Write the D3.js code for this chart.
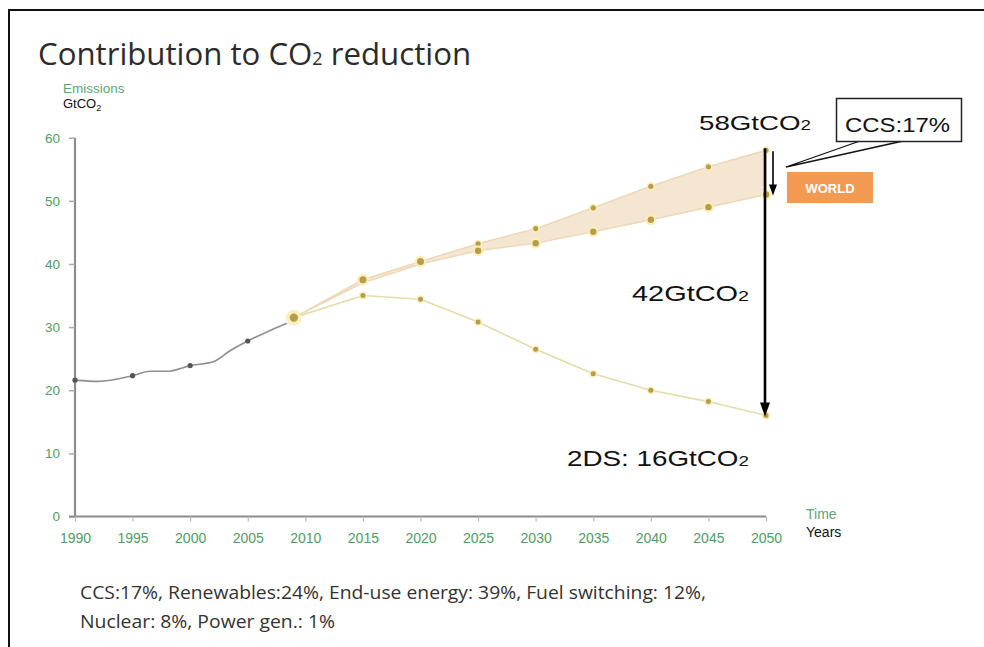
<!DOCTYPE html>
<html>
<head>
<meta charset="utf-8">
<script src="https://cdn.jsdelivr.net/npm/d3@7/dist/d3.min.js"></script>
<style>
  html, body { margin: 0; padding: 0; background: #fff; }
  svg { display: block; }
</style>
</head>
<body>
<svg id="chart" width="984" height="647"></svg>
<script>
// Historical emissions (GtCO2)
const histYears  = [1990, 1992, 1995, 1996.5, 1998, 2000, 2002, 2003.5, 2005, 2007, 2008.4];
const histValues = [21.6, 21.4, 22.3, 23.0, 23.0, 23.9, 24.5, 26.3, 27.8, 29.5, 30.6];
const histMarkYears = [1990, 1995, 2000, 2005];

// Projections from 2009
const projYears   = [2009, 2015, 2020, 2025, 2030, 2035, 2040, 2045, 2050];
const baseline    = [31.5, 37.5, 40.4, 43.2, 45.6, 48.9, 52.3, 55.4, 58];
const withCCS     = [31.5, 37.0, 40.0, 42.1, 43.3, 45.1, 47.0, 49.0, 51];
const twoDS       = [31.5, 35.0, 34.4, 30.8, 26.5, 22.6, 20.0, 18.2, 16];

// Axis ticks
const xTicks = [1990, 1995, 2000, 2005, 2010, 2015, 2020, 2025, 2030, 2035, 2040, 2045, 2050];
const yTicks = [0, 10, 20, 30, 40, 50, 60];

const footLines = [
  "CCS:17%, Renewables:24%, End-use energy: 39%, Fuel switching: 12%,",
  "Nuclear: 8%, Power gen.: 1%"
];

const svg = d3.select("#chart");
const green = "#4e9e64";

const x = d3.scaleLinear().domain([1990, 2050]).range([75, 766]);
const y = d3.scaleLinear().domain([0, 60]).range([516.5, 137.7]);

// frame (top and left edges)
svg.append("line").attr("x1", 9).attr("x2", 984).attr("y1", 10).attr("y2", 10)
  .attr("stroke", "#111").attr("stroke-width", 2);
svg.append("line").attr("x1", 9).attr("x2", 9).attr("y1", 9).attr("y2", 647)
  .attr("stroke", "#111").attr("stroke-width", 2);

// title
const title = svg.append("text").attr("x", 38).attr("y", 65)
  .attr("font-family", "'Open Sans', 'Noto Sans', sans-serif")
  .attr("font-size", 31.2).attr("fill", "#2b2b2b");
title.append("tspan").text("Contribution to CO");
title.append("tspan").attr("font-size", 18).text("2");
title.append("tspan").text(" reduction");

// axis caption
svg.append("text").attr("x", 63).attr("y", 93)
  .attr("font-family", "Arial, 'Liberation Sans', sans-serif")
  .attr("font-size", 13.5).attr("fill", "#5aa874").text("Emissions");
const gt = svg.append("text").attr("x", 63).attr("y", 108)
  .attr("font-family", "Arial, 'Liberation Sans', sans-serif")
  .attr("font-size", 13).attr("fill", "#111");
gt.append("tspan").text("GtCO");
gt.append("tspan").attr("font-size", 9).attr("dy", 3).text("2");

// y axis
const yAxis = d3.axisLeft(y).tickValues(yTicks).tickSize(6).tickPadding(9);
const gy = svg.append("g").attr("transform", `translate(${x(1990)},0)`).call(yAxis);
gy.select(".domain").attr("stroke", "#8c8c8c").attr("stroke-width", 2.2)
  .attr("d", `M0,${y(60)}V${y(0)}`);
gy.selectAll(".tick line").attr("stroke", "#aaa").attr("stroke-width", 1.5);
gy.selectAll(".tick text").attr("fill", green).attr("font-size", 13.5)
  .attr("font-family", "Arial, 'Liberation Sans', sans-serif");

// x axis
const xAxis = d3.axisBottom(x).tickValues(xTicks).tickFormat(d3.format("d")).tickSize(5).tickPadding(12);
const gx = svg.append("g").attr("transform", `translate(0,${y(0)})`).call(xAxis);
gx.select(".domain").attr("stroke", "#8c8c8c").attr("stroke-width", 2.2)
  .attr("d", `M${x(1990) - 6},0H${x(2050)}`);
gx.selectAll(".tick line").attr("stroke", "#bbb").attr("stroke-width", 1.2);
gx.selectAll(".tick text").attr("fill", green).attr("font-size", 14)
  .attr("font-family", "Arial, 'Liberation Sans', sans-serif");

svg.append("text").attr("x", 806).attr("y", 519)
  .attr("font-family", "Arial, 'Liberation Sans', sans-serif")
  .attr("font-size", 14).attr("fill", "#5aa874").text("Time");
svg.append("text").attr("x", 806).attr("y", 537)
  .attr("font-family", "Arial, 'Liberation Sans', sans-serif")
  .attr("font-size", 14).attr("fill", "#111").text("Years");

// historical line
const hist = histYears.map((yr, i) => ({ yr, v: histValues[i] }));
svg.append("path").datum(hist)
  .attr("d", d3.line().x(d => x(d.yr)).y(d => y(d.v)).curve(d3.curveMonotoneX))
  .attr("fill", "none").attr("stroke", "#8f8f8f").attr("stroke-width", 1.6);
svg.selectAll(".hdot").data(histMarkYears).enter().append("circle")
  .attr("cx", d => x(d)).attr("cy", d => y(histValues[histYears.indexOf(d)]))
  .attr("r", 2.6).attr("fill", "#555");

// baseline / CCS band
const band = projYears.map((yr, i) => ({ yr, hi: baseline[i], lo: withCCS[i] }));
svg.append("path").datum(band)
  .attr("d", d3.area().x(d => x(d.yr)).y0(d => y(d.lo)).y1(d => y(d.hi)))
  .attr("fill", "#f5e6d2").attr("stroke", "#eed8b8").attr("stroke-width", 1.5);

// 2DS pathway
svg.append("path").datum(projYears.map((yr, i) => ({ yr, v: twoDS[i] })))
  .attr("d", d3.line().x(d => x(d.yr)).y(d => y(d.v)))
  .attr("fill", "none").attr("stroke", "#e5dcaa").attr("stroke-width", 1.6);

// markers: pale halo with a gold centre
function marker(cx, cy, halo, core) {
  svg.append("circle").attr("cx", cx).attr("cy", cy).attr("r", halo)
    .attr("fill", "#f8efb6").attr("opacity", 0.9);
  svg.append("circle").attr("cx", cx).attr("cy", cy).attr("r", core)
    .attr("fill", "#b89c4c");
}
projYears.forEach((yr, i) => {
  if (i === 0) return;
  marker(x(yr), y(twoDS[i]), 4, 2.5);
});
projYears.forEach((yr, i) => {
  if (i === 0) return;
  marker(x(yr), y(baseline[i]), i <= 2 ? 6 : 4, i <= 2 ? 3.5 : 2.6);
  if (i >= 3) marker(x(yr), y(withCCS[i]), 5.5, 3.2);
});
marker(x(projYears[0]), y(baseline[0]), 8, 4.2);

// arrows
const last = projYears.length - 1;
svg.append("line").attr("x1", x(2050) - 1).attr("x2", x(2050) - 1)
  .attr("y1", y(baseline[last]) - 2).attr("y2", y(twoDS[last]) - 12)
  .attr("stroke", "#000").attr("stroke-width", 2.6);
svg.append("path").attr("d", `M${x(2050) - 6},${y(twoDS[last]) - 13}L${x(2050) + 4},${y(twoDS[last]) - 13}L${x(2050) - 1},${y(twoDS[last]) + 1}Z`)
  .attr("fill", "#000");

svg.append("line").attr("x1", x(2050) + 7).attr("x2", x(2050) + 7)
  .attr("y1", y(baseline[last]) + 1).attr("y2", y(withCCS[last]) - 9)
  .attr("stroke", "#000").attr("stroke-width", 1.6);
svg.append("path").attr("d", `M${x(2050) + 3},${y(withCCS[last]) - 10}L${x(2050) + 11},${y(withCCS[last]) - 10}L${x(2050) + 7},${y(withCCS[last]) + 1}Z`)
  .attr("fill", "#000");

// value labels
function coLabel(tx, ty, main, size, len) {
  const t = svg.append("text").attr("x", tx).attr("y", ty)
    .attr("font-family", "Arial, 'Liberation Sans', sans-serif")
    .attr("font-size", size).attr("fill", "#111")
    .attr("textLength", len).attr("lengthAdjust", "spacingAndGlyphs");
  t.append("tspan").text(main);
  t.append("tspan").attr("font-size", size * 0.68).text("2");
  return t;
}
coLabel(699, 130, `${baseline[last]}GtCO`, 21, 112);
coLabel(632, 301, `${baseline[last] - twoDS[last]}GtCO`, 22, 117);
coLabel(567, 466, `2DS: ${twoDS[last]}GtCO`, 22, 182);

// callout
svg.append("path").attr("d", "M860,141L786,167L903,141Z")
  .attr("fill", "#fff").attr("stroke", "#111").attr("stroke-width", 1.3)
  .attr("stroke-linejoin", "miter");
svg.append("rect").attr("x", 836.5).attr("y", 98.5).attr("width", 125).attr("height", 43)
  .attr("fill", "#fff").attr("stroke", "#222").attr("stroke-width", 1.5);
svg.append("text").attr("x", 845).attr("y", 132)
  .attr("font-family", "Arial, 'Liberation Sans', sans-serif")
  .attr("font-size", 21).attr("fill", "#111")
  .attr("textLength", 105).attr("lengthAdjust", "spacingAndGlyphs")
  .text("CCS:17%");

// region tag
svg.append("rect").attr("x", 787).attr("y", 172).attr("width", 86).attr("height", 31)
  .attr("fill", "#f29a52");
svg.append("text").attr("x", 830).attr("y", 192.5).attr("text-anchor", "middle")
  .attr("font-family", "Arial, 'Liberation Sans', sans-serif")
  .attr("font-size", 13).attr("font-weight", "bold").attr("fill", "#fff")
  .text("WORLD");

// footnote
const footLens = [626, 255];
footLines.forEach((line, i) => {
  svg.append("text").attr("x", 80).attr("y", 599 + i * 29)
    .attr("font-family", "'Liberation Sans Narrow', 'Open Sans', sans-serif")
    .attr("font-size", 18).attr("fill", "#333")
    .attr("textLength", footLens[i]).attr("lengthAdjust", "spacingAndGlyphs")
    .text(line);
});
</script>
</body>
</html>
